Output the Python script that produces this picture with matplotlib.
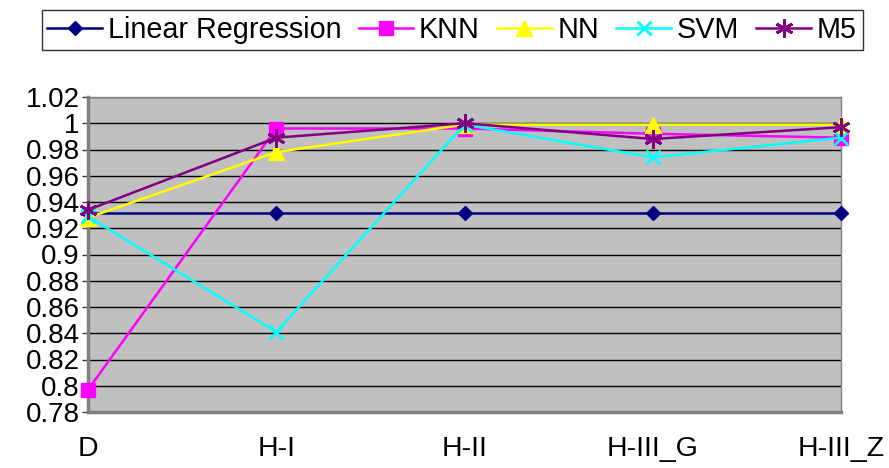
import numpy as np
import matplotlib.pyplot as plt

plt.rcParams['font.family'] = ['Liberation Sans', 'DejaVu Sans']

categories = ['D', 'H-I', 'H-II', 'H-III_G', 'H-III_Z']
linear_regression = [0.932, 0.932, 0.932, 0.932, 0.932]
knn = [0.797, 0.996, 0.996, 0.992, 0.989]
nn = [0.928, 0.978, 0.999, 0.999, 0.999]
svm = [0.929, 0.841, 0.999, 0.974, 0.989]
m5 = [0.934, 0.989, 1.000, 0.988, 0.997]

series = [
    ('Linear Regression', linear_regression, '#000080', 'D', 7),
    ('KNN', knn, '#FF00FF', 's', 10),
    ('NN', nn, '#FFFF00', '^', 11),
    ('SVM', svm, '#00FFFF', 'x', 10),
    ('M5', m5, '#800080', (6, 2, 0), 13),
]

fig = plt.figure(figsize=(8.89, 4.68), dpi=100)
ax = fig.add_axes([88 / 889, 1 - 412 / 468, (841 - 88) / 889, (412 - 97) / 468])
ax.set_facecolor('#C0C0C0')

x = np.arange(len(categories))
for name, vals, color, marker, ms in series:
    ax.plot(x, vals, color=color, marker=marker, markersize=ms, linewidth=1.8,
            markeredgewidth=2 if marker in ('x', (6, 2, 0)) else 1,
            label=name, clip_on=False, zorder=3)

ax.set_xlim(0, 4)
ax.set_ylim(0.78, 1.02)
ax.set_yticks(np.arange(0.78, 1.0201, 0.02))
ax.set_yticklabels(['0.78', '0.8', '0.82', '0.84', '0.86', '0.88', '0.9',
                    '0.92', '0.94', '0.96', '0.98', '1', '1.02'])
ax.set_xticks(x)
ax.set_xticklabels(categories)
ax.tick_params(axis='y', labelsize=20, length=4, width=1, color='#404040', pad=2)
ax.tick_params(axis='x', labelsize=20.5, length=0, pad=17)
ax.yaxis.grid(True, color='black', linewidth=1)
ax.set_axisbelow(True)
for side in ['left', 'bottom']:
    ax.spines[side].set_color('#808080')
    ax.spines[side].set_linewidth(2.5)
for side in ['top', 'right']:
    ax.spines[side].set_color('#808080')
    ax.spines[side].set_linewidth(1)

leg = fig.legend(loc='upper center', bbox_to_anchor=(452 / 889, 1 - 10 / 468), ncol=5,
                 fontsize=20.7, frameon=True, fancybox=False, edgecolor='black',
                 handlelength=1.9, handletextpad=0.2, columnspacing=0.6,
                 borderpad=0.2, borderaxespad=0)
leg.get_frame().set_linewidth(1)

fig.savefig('out.png', dpi=100)
